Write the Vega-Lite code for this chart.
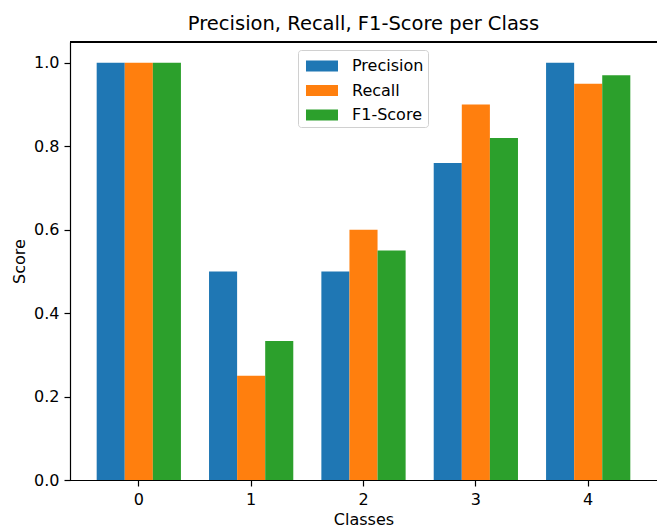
{
  "$schema": "https://vega.github.io/schema/vega-lite/v6.json",
  "width": 587,
  "height": 438,
  "autosize": {"type": "none"},
  "padding": {"left": 70, "top": 42, "right": 0, "bottom": 48},
  "background": "white",
  "title": {"text": "Precision, Recall, F1-Score per Class", "fontSize": 19.5, "fontWeight": "normal", "font": "DejaVu Sans", "color": "#000000", "offset": 7},
  "data": {"values": [
    {"cls": "0", "metric": "Precision", "score": 1.0},
    {"cls": "0", "metric": "Recall", "score": 1.0},
    {"cls": "0", "metric": "F1-Score", "score": 1.0},
    {"cls": "1", "metric": "Precision", "score": 0.5},
    {"cls": "1", "metric": "Recall", "score": 0.25},
    {"cls": "1", "metric": "F1-Score", "score": 0.333},
    {"cls": "2", "metric": "Precision", "score": 0.5},
    {"cls": "2", "metric": "Recall", "score": 0.6},
    {"cls": "2", "metric": "F1-Score", "score": 0.55},
    {"cls": "3", "metric": "Precision", "score": 0.76},
    {"cls": "3", "metric": "Recall", "score": 0.9},
    {"cls": "3", "metric": "F1-Score", "score": 0.82},
    {"cls": "4", "metric": "Precision", "score": 1.0},
    {"cls": "4", "metric": "Recall", "score": 0.95},
    {"cls": "4", "metric": "F1-Score", "score": 0.97}
  ]},
  "layer": [
    {
      "mark": {"type": "bar"},
      "encoding": {
        "x": {"field": "cls", "type": "nominal", "sort": ["0","1","2","3","4"],
              "scale": {"paddingInner": 0.25, "paddingOuter": 0.2375},
              "axis": {"title": "Classes", "labelAngle": 0, "titlePadding": 4}},
        "xOffset": {"field": "metric", "type": "nominal", "sort": ["Precision", "Recall", "F1-Score"],
                    "scale": {"paddingInner": 0, "paddingOuter": 0}},
        "y": {"field": "score", "type": "quantitative",
              "scale": {"domain": [0, 1.05], "nice": false, "zero": true},
              "axis": {"title": "Score", "values": [0, 0.2, 0.4, 0.6, 0.8, 1.0], "format": ".1f"}},
        "color": {"field": "metric", "type": "nominal", "sort": ["Precision", "Recall", "F1-Score"],
                  "scale": {"domain": ["Precision", "Recall", "F1-Score"], "range": ["#1f77b4", "#ff7f0e", "#2ca02c"]},
                  "legend": {"title": null, "orient": "none", "legendX": 228, "legendY": 8,
                             "symbolType": "M-0.667,-0.467H2V0.467H-0.667Z", "symbolSize": 576,
                             "symbolStrokeWidth": 0, "labelOffset": 26, "padding": 4, "rowPadding": 4.5,
                             "labelFontSize": 16, "labelFont": "DejaVu Sans", "labelColor": "#000000",
                             "strokeColor": "#d0d0d0", "fillColor": "rgba(255,255,255,0.8)", "cornerRadius": 3}}
      }
    },
    {
      "mark": {"type": "rule", "color": "#000000", "strokeWidth": 1.2},
      "encoding": {"y": {"datum": 1.05}}
    }
  ],
  "config": {
    "view": {"stroke": null},
    "font": "DejaVu Sans",
    "axis": {
      "grid": false,
      "domainColor": "#000000",
      "domainWidth": 1.2,
      "tickColor": "#000000",
      "tickWidth": 1.2,
      "tickSize": 6,
      "labelPadding": 5,
      "labelFontSize": 16,
      "labelFont": "DejaVu Sans",
      "labelColor": "#000000",
      "titleFontSize": 16,
      "titleFont": "DejaVu Sans",
      "titleFontWeight": "normal",
      "titleColor": "#000000",
      "titlePadding": 6
    },
    "axisX": {"domainCap": "square"}
  }
}
